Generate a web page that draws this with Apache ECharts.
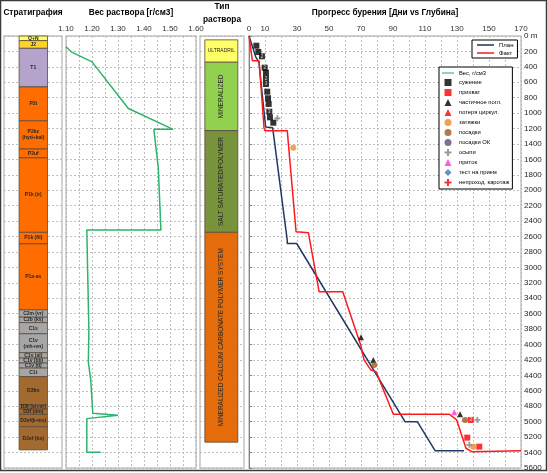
<!DOCTYPE html>
<html>
<head>
<meta charset="utf-8">
<script src="https://cdn.jsdelivr.net/npm/echarts@6/dist/echarts.min.js"></script>
<style>
  html, body { margin: 0; padding: 0; background: #fff; }
  #chart { width: 548px; height: 473px; }
</style>
</head>
<body>
<div id="chart"></div>
<script>
// ---- данные ----
// стратиграфия: название, кровля, подошва (м)
var stratNames  = ['Q+N', 'J2', 'T1', 'P2t', 'P2kz\n(hyd+kal)', 'P2uf', 'P1k (ir)', 'P1k (fil)', 'P1a-as',
                   'C2m (vr)', 'C2b (kš)', 'C1s', 'C1v\n(mh+vn)', 'C1v (al)', 'C1v (bb)', 'C1v (tl)', 'C1t',
                   'D3fm', 'D3f (sr+vr)', 'D3f (dm)', 'D2ef(k-ms)', 'D2ef (bs)'];
var stratTop    = [0, 60, 160, 660, 1100, 1465, 1580, 2545, 2695, 3550, 3645, 3715, 3860, 4105, 4175, 4240, 4305,
                   4415, 4780, 4835, 4905, 5065];
var stratBottom = [60, 160, 660, 1100, 1465, 1580, 2545, 2695, 3550, 3645, 3715, 3860, 4105, 4175, 4240, 4305, 4415,
                   4780, 4835, 4905, 5065, 5365];

// тип раствора
var fluidNames  = ['ULTRADRIL', 'MINERALIZED', 'SALT SATURATED/POLYMER', 'MINERALIZED CALCIUM CARBONATE POLYMER SYSTEM'];
var fluidTop    = [50, 340, 1227, 2545];
var fluidBottom = [340, 1227, 2545, 5265];

// вес раствора [г/см3, глубина]
var densityCurve = [[1.10, 140], [1.12, 205], [1.20, 335], [1.34, 940], [1.512, 1210], [1.438, 1210], [1.455, 1710],
                    [1.465, 2515], [1.18, 2515], [1.188, 3810], [1.186, 4230], [1.195, 4450], [1.203, 4890],
                    [1.30, 4915], [1.18, 4960], [1.18, 5395], [1.234, 5395]];

// прогресс бурения [дни, глубина]
var planCurve = [[0, 0], [4.2, 270], [6.2, 340], [10.4, 1180], [14.8, 1190], [23.9, 2645], [23.9, 2690], [29.8, 2690],
                 [97.5, 5000], [105.2, 5000], [116.3, 5375], [134.4, 5375]];
var factCurve = [[0, 0], [2.1, 320], [6.3, 320], [9.4, 1196], [10, 1227], [23.9, 1227], [29.4, 2536], [37.1, 2549],
                 [43.8, 3314], [58.6, 3314], [69.8, 4005], [71.9, 4199], [76.1, 4329], [79.4, 4351], [90.2, 4903],
                 [125.2, 4903], [129.8, 4977], [135.6, 5344], [139.2, 5388], [170, 5375]];

// осложнения [дни, глубина, кол-во]
var narrowing   = [[4.6, 126], [5.8, 207], [8.1, 263, 2], [9.8, 411, 2], [10.6, 476], [10.6, 548, 2], [10.6, 622, 3],
                   [11.4, 722], [11.9, 807], [12.3, 881], [12.7, 981, 3], [13.1, 1054], [15.2, 1124]];
var sticking    = [[138.6, 4977, 2], [136.4, 5206], [143.9, 5323]];
var partLoss    = [[70, 3905], [77.7, 4199], [131.9, 4903]];
var totalLoss   = [];
var overpull    = [[27.7, 1448], [140.2, 5323]];
var slackoff    = [[78.3, 4264], [135, 4977]];
var slackoffOK  = [];
var caving      = [[17.7, 1067], [142.7, 4977], [137.7, 5300]];
var influx      = [[128.3, 4877]];
var injTest     = [];
var logFail     = [];

var xMainTicks = [0, 10, 30, 50, 70, 90, 110, 130, 150, 170];

// ---- оформление ----
var FONT = 'Liberation Sans';
var stratColors = { Q: '#FFFF66', J: '#FFD42A', T: '#B4A4CC', P: '#FF6D00', C: '#A6A6A6', D: '#A36A30' };
var fluidColors = ['#FFFF66', '#92D050', '#77933C', '#E46C0A'];
var SQUARE = 'path://M0,0H10V10H0Z';
var TRI = 'path://M5,0L10,10H0Z';
var DIAM = 'path://M5,0L10,5L5,10L0,5Z';
var PLUS = 'path://M3.5,0H6.5V3.5H10V6.5H6.5V10H3.5V6.5H0V3.5H3.5Z';
var LINE_ICON = 'path://M0,0H20V1.8H0Z';
var gridLine = { show: true, lineStyle: { type: [2, 2], color: '#b0b0b0', width: 0.8 } };

var chart = echarts.init(document.getElementById('chart'));

function blockRenderer(x0, x1, colorOf, names, textOpt) {
    return function (params, api) {
        var i = api.value(2);
        var a = api.coord([x0, api.value(0)]);
        var b = api.coord([x1, api.value(1)]);
        return {
            type: 'rect',
            shape: { x: a[0], y: a[1], width: b[0] - a[0], height: b[1] - a[1] },
            style: { fill: colorOf(i), stroke: '#5b4a3a', lineWidth: 0.8 },
            textContent: { style: { text: names[i], fontSize: textOpt.size(i), fontWeight: textOpt.weight,
                                    fontFamily: FONT, fill: '#262626', align: 'center', lineHeight: textOpt.size(i) + 1 } },
            textConfig: { position: 'inside', rotation: textOpt.rot(i) }
        };
    };
}

function markerSeries(name, data, symbol, color, size) {
    return {
        name: name, type: 'scatter', xAxisIndex: 3, yAxisIndex: 3, data: data,
        symbol: symbol, symbolSize: size || 6, itemStyle: { color: color }, z: 5,
        label: { show: true, position: 'inside', fontSize: 4.5, color: '#fff', fontFamily: FONT,
                 formatter: function (p) { return p.value[2] ? String(p.value[2]) : ''; } }
    };
}

function header(x, y, text) {
    return { type: 'text', x: x, y: y, style: { text: text, fontFamily: FONT, fontWeight: 'bold', fontSize: 8.3,
             lineHeight: 13, fill: '#000', align: 'center', verticalAlign: 'middle' } };
}

var option = {
    animation: false,
    backgroundColor: '#fff',
    textStyle: { fontFamily: FONT },
    graphic: [
        { type: 'rect', shape: { x: 0.5, y: 0.5, width: 546, height: 470 }, style: { fill: 'none', stroke: '#3a3a3a', lineWidth: 1.5 }, silent: true },
        header(33, 13, 'Стратиграфия'),
        header(131, 13, 'Вес раствора [г/см3]'),
        header(222, 13, 'Тип\nраствора'),
        header(385, 13, 'Прогресс бурения [Дни vs Глубина]')
    ],
    grid: [
        { left: 4, top: 36, width: 58, height: 432, show: true, borderColor: '#c4c4c4', borderWidth: 1.5 },
        { left: 66, top: 36, width: 130, height: 432, show: true, borderColor: '#c4c4c4', borderWidth: 1.5 },
        { left: 200, top: 36, width: 44, height: 432, show: true, borderColor: '#c4c4c4', borderWidth: 1.5 },
        { left: 249, top: 36, width: 272, height: 432, show: true, borderColor: '#c4c4c4', borderWidth: 1.5 }
    ],
    xAxis: [
        { gridIndex: 0, type: 'value', min: 0, max: 100, show: false },
        { gridIndex: 1, type: 'value', min: 1.1, max: 1.6, interval: 0.05, position: 'top',
          axisLine: { show: false }, axisTick: { show: false }, splitLine: gridLine,
          axisLabel: { fontSize: 8, color: '#333', margin: 3,
                       formatter: function (v) { var k = Math.round(v * 100); return k % 10 === 0 ? (k / 100).toFixed(2) : ''; } } },
        { gridIndex: 2, type: 'value', min: 0, max: 100, show: false },
        { gridIndex: 3, type: 'value', min: 0, max: 170, interval: 10, position: 'top',
          axisLine: { show: false }, axisTick: { show: false }, splitLine: gridLine,
          axisLabel: { fontSize: 8, color: '#333', margin: 3,
                       formatter: function (v) { return xMainTicks.indexOf(v) >= 0 ? String(v) : ''; } } }
    ],
    yAxis: [0, 1, 2].map(function (g) {
        return { gridIndex: g, type: 'value', inverse: true, min: 0, max: 5600, interval: 200,
                 axisLine: { show: false }, axisTick: { show: false }, axisLabel: { show: false }, splitLine: gridLine };
    }).concat([
        { gridIndex: 3, type: 'value', inverse: true, min: 0, max: 5600, interval: 200, position: 'right',
          axisLine: { show: true, lineStyle: { color: '#7f7f7f' } },
          axisTick: { show: true, length: 3, lineStyle: { color: '#7f7f7f' } },
          axisLabel: { fontSize: 8, color: '#262626', margin: 3,
                       formatter: function (v) { return v === 0 ? '0 m' : String(v); } },
          splitLine: gridLine }
    ]),
    legend: [
        { data: [{ name: 'План', icon: LINE_ICON }, { name: 'Факт', icon: LINE_ICON }],
          orient: 'vertical', left: 472, top: 40, itemWidth: 17, itemHeight: 7, itemGap: 2,
          padding: [2, 4, 2, 5], backgroundColor: '#fff', borderColor: '#000', borderWidth: 1,
          textStyle: { fontSize: 6, color: '#000', fontFamily: FONT } },
        { data: [{ name: 'Вес, г/см3', icon: LINE_ICON }, 'сужение', 'прихват', 'частичное погл.', 'потеря циркул.',
                 'затяжки', 'посадки', 'посадки ОК', 'осыпи', 'приток', 'тест на прием', 'непроход. каротаж'],
          orient: 'vertical', left: 439, top: 67, itemWidth: 12, itemHeight: 7, itemGap: 3,
          padding: [3, 3, 3, 3], backgroundColor: '#fff', borderColor: '#000', borderWidth: 1,
          textStyle: { fontSize: 5.8, color: '#000', fontFamily: FONT } }
    ],
    series: [
        {
            name: 'strat', type: 'custom', xAxisIndex: 0, yAxisIndex: 0, encode: { y: [0, 1] },
            data: stratNames.map(function (n, i) { return [stratTop[i], stratBottom[i], i]; }),
            renderItem: blockRenderer(26, 75, function (i) { return stratColors[stratNames[i].charAt(0)]; }, stratNames,
                { size: function () { return 5; }, weight: 'bold', rot: function () { return 0; } })
        },
        {
            name: 'fluid', type: 'custom', xAxisIndex: 2, yAxisIndex: 2, encode: { y: [0, 1] },
            data: fluidNames.map(function (n, i) { return [fluidTop[i], fluidBottom[i], i]; }),
            renderItem: blockRenderer(11, 86, function (i) { return fluidColors[i]; }, fluidNames,
                { size: function (i) { return i === 0 ? 5 : 6.5; }, weight: 'normal',
                  rot: function (i) { return i === 0 ? 0 : Math.PI / 2; } })
        },
        {
            name: 'Вес, г/см3', type: 'line', xAxisIndex: 1, yAxisIndex: 1, data: densityCurve,
            symbol: 'none', lineStyle: { color: '#2DB36A', width: 1.5 }, itemStyle: { color: '#2DB36A' }
        },
        {
            name: 'План', type: 'line', xAxisIndex: 3, yAxisIndex: 3, data: planCurve,
            symbol: 'none', lineStyle: { color: '#1F3864', width: 1.5 }, itemStyle: { color: '#1F3864' }, z: 3
        },
        {
            name: 'Факт', type: 'line', xAxisIndex: 3, yAxisIndex: 3, data: factCurve,
            symbol: 'none', lineStyle: { color: '#FF1A1A', width: 1.5 }, itemStyle: { color: '#FF1A1A' }, z: 4
        },
        markerSeries('сужение', narrowing, SQUARE, '#000000', 6),
        markerSeries('прихват', sticking, SQUARE, '#FF0000', 6),
        markerSeries('частичное погл.', partLoss, TRI, '#000000', 6),
        markerSeries('потеря циркул.', totalLoss, TRI, '#FF0000', 6),
        markerSeries('затяжки', overpull, 'circle', '#F08A24', 6),
        markerSeries('посадки', slackoff, 'circle', '#9C5A1C', 6),
        markerSeries('посадки ОК', slackoffOK, 'circle', '#604A7B', 6),
        markerSeries('осыпи', caving, PLUS, '#7F7F7F', 6),
        markerSeries('приток', influx, TRI, '#FF33CC', 6),
        markerSeries('тест на прием', injTest, DIAM, '#3F6FB5', 6),
        markerSeries('непроход. каротаж', logFail, PLUS, '#FF0000', 7)
    ]
};

chart.setOption(option);
</script>
</body>
</html>
